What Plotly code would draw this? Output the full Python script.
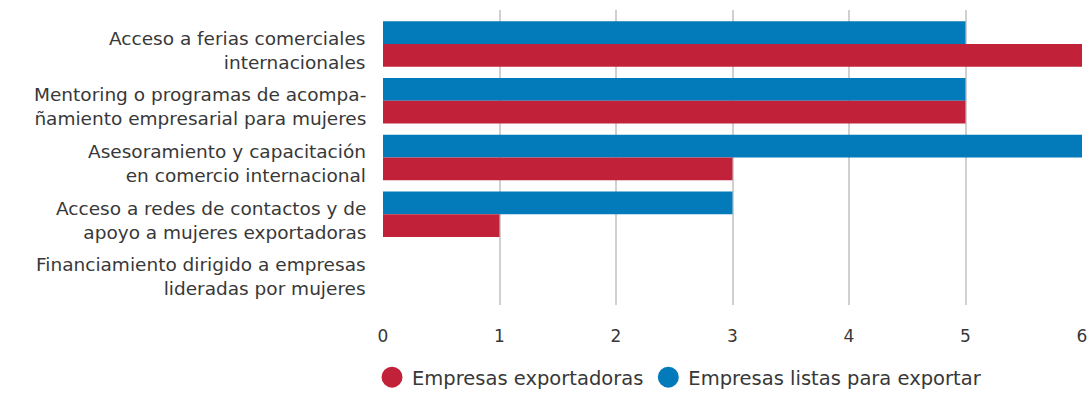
import plotly.graph_objects as go

categories = [
    "Acceso a ferias comerciales<br>internacionales",
    "Mentoring o programas de acompa-<br>ñamiento empresarial para mujeres",
    "Asesoramiento y capacitación<br>en comercio internacional",
    "Acceso a redes de contactos y de<br>apoyo a mujeres exportadoras",
    "Financiamiento dirigido a empresas<br>lideradas por mujeres",
]
exportadoras = [6, 5, 3, 1, 0]
listas = [5, 5, 6, 3, 0]
x_ticks = [0, 1, 2, 3, 4, 5, 6]

RED = "#C1223A"
BLUE = "#037ABA"
TXT = "#383838"
FONT = "DejaVu Sans"

fig = go.Figure()
fig.add_trace(go.Bar(y=categories, x=listas, orientation="h", marker_color=BLUE,
                     marker_line_width=0, name="Empresas listas para exportar", showlegend=False))
fig.add_trace(go.Bar(y=categories, x=exportadoras, orientation="h", marker_color=RED,
                     marker_line_width=0, name="Empresas exportadoras", showlegend=False))
# legend entries with circular markers
fig.add_trace(go.Scatter(x=[None], y=[None], mode="markers", name="Empresas exportadoras",
                         marker=dict(color=RED, size=16, symbol="circle",
                                     line=dict(color=RED, width=5))))
fig.add_trace(go.Scatter(x=[None], y=[None], mode="markers", name="Empresas listas para exportar",
                         marker=dict(color=BLUE, size=16, symbol="circle",
                                     line=dict(color=BLUE, width=5))))

# category labels
for cat in categories:
    fig.add_annotation(x=0, xref="paper", y=cat, yref="y", text=cat,
                       showarrow=False, xanchor="right", yanchor="middle", align="right",
                       xshift=-15, yshift=-6,
                       font=dict(family=FONT, size=18.5, color=TXT))

fig.update_layout(
    width=1091, height=397,
    margin=dict(l=383, r=9, t=10, b=92),
    barmode="group", bargap=0.2, bargroupgap=0,
    plot_bgcolor="white", paper_bgcolor="white",
    font=dict(family=FONT, color=TXT, size=18),
    legend=dict(orientation="h", xref="container", x=0.341, xanchor="left",
                yref="container", y=-0.015, yanchor="bottom",
                font=dict(size=19.5, color=TXT), itemsizing="trace",
                traceorder="normal", itemwidth=30, borderwidth=0, tracegroupgap=0),
    xaxis=dict(range=[0, 6], tickvals=x_ticks, showgrid=True, gridcolor="#d0d0d0",
               gridwidth=2, zeroline=False, showline=False, ticks="", automargin=False,
               ticklabelstandoff=19, tickfont=dict(size=17, color=TXT)),
    yaxis=dict(categoryorder="array", categoryarray=categories, range=[4.6, -0.6],
               showgrid=False, zeroline=False, showline=False, ticks="",
               showticklabels=False, automargin=False),
)
fig.write_html("out.html")
